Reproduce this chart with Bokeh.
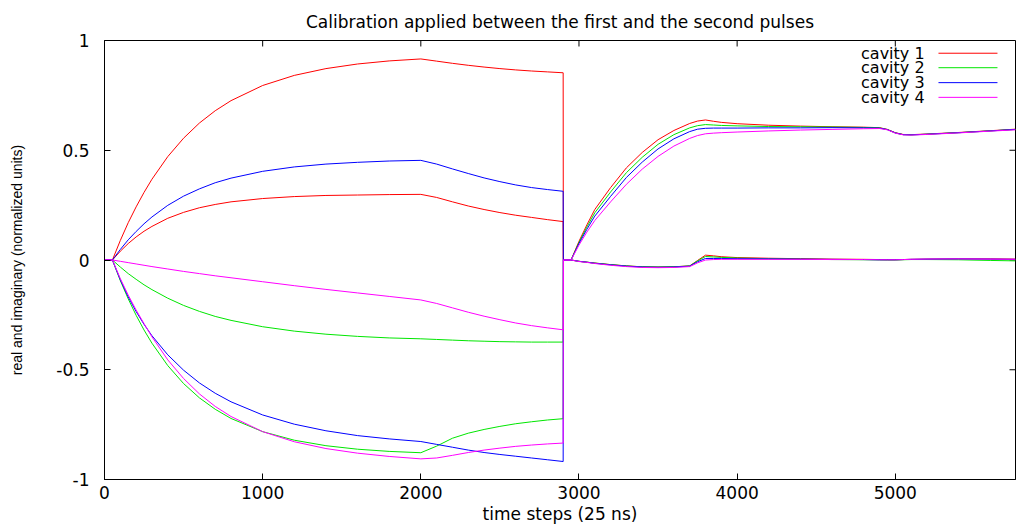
from bokeh.plotting import figure
from bokeh.models import Range1d, FixedTicker, CustomJSTickFormatter, Label
from bokeh.embed import file_html
from bokeh.resources import INLINE

# time steps (25 ns each)
steps = [0, 50, 100, 150, 200, 250, 300, 400, 500, 600, 700, 800, 1000, 1200, 1400, 1600, 1800, 2000,
         2100, 2200, 2300, 2400, 2500, 2600, 2700, 2800, 2900, 2901, 2950,
         3000, 3050, 3100, 3200, 3300, 3400, 3500, 3600, 3700, 3750, 3800, 3850, 3900, 4000,
         4200, 4400, 4600, 4800, 4900, 4950, 5000, 5050, 5100, 5200, 5400, 5600, 5760]

cav1_re = [0, 0, 0.089, 0.170, 0.242, 0.308, 0.368, 0.471, 0.555, 0.624, 0.680, 0.726, 0.795, 0.841, 0.872, 0.893, 0.907, 0.916,
           0.906, 0.896, 0.887, 0.879, 0.872, 0.866, 0.861, 0.857, 0.853, 0, 0,
           0.085, 0.160, 0.230, 0.330, 0.420, 0.490, 0.548, 0.590, 0.622, 0.633, 0.638, 0.632, 0.627, 0.621,
           0.614, 0.610, 0.607, 0.605, 0.603, 0.595, 0.580, 0.572, 0.571, 0.574, 0.581, 0.589, 0.596]
cav1_im = [0, 0, 0.040, 0.075, 0.105, 0.131, 0.153, 0.190, 0.217, 0.238, 0.253, 0.265, 0.280, 0.289, 0.294, 0.296, 0.298, 0.299,
           0.285, 0.265, 0.246, 0.230, 0.216, 0.204, 0.194, 0.184, 0.175, 0, 0,
           -0.006, -0.010, -0.014, -0.021, -0.027, -0.031, -0.032, -0.031, -0.027, -0.002, 0.022, 0.019, 0.015, 0.011,
           0.008, 0.006, 0.004, 0.003, 0.002, 0.001, 0.001, 0.002, 0.003, 0.004, 0.005, 0.005, 0.004]

cav2_re = [0, 0, -0.032, -0.062, -0.088, -0.113, -0.135, -0.174, -0.207, -0.234, -0.257, -0.275, -0.304, -0.324, -0.338, -0.348, -0.355, -0.359,
           -0.362, -0.365, -0.368, -0.370, -0.372, -0.373, -0.374, -0.374, -0.374, 0, 0,
           0.080, 0.150, 0.215, 0.310, 0.398, 0.468, 0.527, 0.571, 0.602, 0.612, 0.617, 0.615, 0.613, 0.611,
           0.608, 0.607, 0.606, 0.604, 0.602, 0.594, 0.579, 0.571, 0.570, 0.573, 0.580, 0.588, 0.595]
cav2_im = [0, 0, -0.094, -0.177, -0.252, -0.319, -0.379, -0.481, -0.563, -0.628, -0.680, -0.722, -0.782, -0.821, -0.846, -0.862, -0.872, -0.878,
           -0.848, -0.812, -0.789, -0.772, -0.758, -0.746, -0.737, -0.729, -0.723, 0, 0,
           -0.006, -0.010, -0.014, -0.021, -0.027, -0.031, -0.032, -0.031, -0.027, -0.004, 0.016, 0.014, 0.012, 0.009,
           0.006, 0.004, 0.002, 0.001, 0.000, 0.000, 0.000, 0.001, 0.002, 0.002, 0.001, -0.002, -0.004]

cav3_re = [0, 0, 0.048, 0.092, 0.130, 0.165, 0.196, 0.249, 0.291, 0.324, 0.352, 0.373, 0.404, 0.424, 0.437, 0.445, 0.451, 0.454,
           0.437, 0.415, 0.394, 0.374, 0.357, 0.342, 0.330, 0.321, 0.313, 0, 0,
           0.075, 0.140, 0.200, 0.290, 0.376, 0.446, 0.506, 0.552, 0.585, 0.596, 0.600, 0.601, 0.601, 0.601,
           0.602, 0.602, 0.603, 0.602, 0.601, 0.594, 0.579, 0.571, 0.570, 0.573, 0.580, 0.588, 0.595]
cav3_im = [0, 0, -0.090, -0.168, -0.235, -0.293, -0.345, -0.432, -0.502, -0.560, -0.607, -0.646, -0.706, -0.748, -0.778, -0.800, -0.815, -0.827,
           -0.840, -0.853, -0.866, -0.877, -0.886, -0.894, -0.902, -0.910, -0.918, 0, 0,
           -0.006, -0.010, -0.015, -0.022, -0.028, -0.032, -0.033, -0.032, -0.028, -0.008, 0.007, 0.007, 0.007, 0.006,
           0.005, 0.004, 0.003, 0.002, 0.001, 0.001, 0.001, 0.002, 0.003, 0.004, 0.005, 0.004, 0.003]

cav4_re = [0, 0, -0.006, -0.012, -0.018, -0.024, -0.030, -0.041, -0.052, -0.062, -0.072, -0.081, -0.099, -0.117, -0.134, -0.150, -0.166, -0.182,
           -0.198, -0.218, -0.238, -0.256, -0.272, -0.287, -0.299, -0.309, -0.318, 0, 0,
           0.068, 0.127, 0.180, 0.265, 0.345, 0.414, 0.472, 0.519, 0.554, 0.567, 0.575, 0.578, 0.580, 0.583,
           0.588, 0.592, 0.595, 0.598, 0.599, 0.593, 0.578, 0.570, 0.569, 0.572, 0.579, 0.587, 0.593]
cav4_im = [0, 0, -0.085, -0.160, -0.228, -0.290, -0.350, -0.455, -0.540, -0.610, -0.667, -0.713, -0.782, -0.828, -0.859, -0.880, -0.895, -0.906,
           -0.902, -0.890, -0.877, -0.866, -0.857, -0.849, -0.843, -0.838, -0.834, 0, 0,
           -0.007, -0.011, -0.016, -0.024, -0.030, -0.034, -0.035, -0.034, -0.030, -0.013, 0.000, 0.002, 0.003, 0.003,
           0.003, 0.003, 0.002, 0.002, 0.001, 0.001, 0.001, 0.002, 0.003, 0.004, 0.005, 0.004, 0.003]

names = ["cavity 1", "cavity 2", "cavity 3", "cavity 4"]
colors = ["#ff0000", "#00e600", "#0000ff", "#ff00ff"]
series = [(cav1_re, cav1_im), (cav2_re, cav2_im), (cav3_re, cav3_im), (cav4_re, cav4_im)]
x_ticks = [0, 1000, 2000, 3000, 4000, 5000]
y_ticks = [-1, -0.5, 0, 0.5, 1]

FONT = "DejaVu Sans"
X_MAX = 5760
FRAME_W, FRAME_H = 911, 440
TICK_PX = 6

p = figure(width=1016, height=526, x_range=Range1d(0, X_MAX), y_range=Range1d(-1, 1),
           output_backend="svg", toolbar_location=None,
           min_border_left=104, min_border_right=1, min_border_top=40, min_border_bottom=46,
           background_fill_color="white", border_fill_color="white")

p.title.text = "Calibration applied between the first and the second pulses"
p.title.align = "center"
p.title.text_font = FONT
p.title.text_font_size = "17px"
p.title.text_font_style = "normal"
p.title.text_color = "black"
p.title.standoff = 17

p.xgrid.visible = False
p.ygrid.visible = False
p.outline_line_color = "black"
p.outline_line_width = 1

fmt = CustomJSTickFormatter(code="return tick.toString()")

xa = p.xaxis[0]
xa.ticker = FixedTicker(ticks=x_ticks)
xa.formatter = fmt
xa.axis_label = "time steps (25 ns)"
ya = p.yaxis[0]
ya.ticker = FixedTicker(ticks=y_ticks)
ya.formatter = fmt
ya.axis_label = "real and imaginary (normalized units)"

for ax in (xa, ya):
    ax.major_tick_in = TICK_PX
    ax.major_tick_out = 0
    ax.minor_tick_line_color = None
    ax.axis_line_color = "black"
    ax.major_tick_line_color = "black"
    ax.major_label_text_font = FONT
    ax.major_label_text_font_size = "17px"
    ax.major_label_text_color = "black"
    ax.axis_label_text_font_style = "normal"
    ax.axis_label_text_color = "black"

xa.major_label_standoff = 6
xa.axis_label_text_font = FONT
xa.axis_label_text_font_size = "17px"
xa.axis_label_standoff = 2
ya.major_label_standoff = 15
ya.axis_label_text_font = "Liberation Sans"
ya.axis_label_text_font_size = "14px"
ya.axis_label_standoff = 28

# mirrored inward ticks on the top and right borders
dy_tick = TICK_PX * 2.0 / FRAME_H
dx_tick = TICK_PX * X_MAX / FRAME_W
p.segment(x0=x_ticks, x1=x_ticks, y0=[1] * len(x_ticks), y1=[1 - dy_tick] * len(x_ticks),
          line_color="black", line_width=1)
p.segment(x0=[X_MAX] * len(y_ticks), x1=[X_MAX - dx_tick] * len(y_ticks), y0=y_ticks, y1=y_ticks,
          line_color="black", line_width=1)

for (re_vals, im_vals), c in zip(series, colors):
    p.multi_line(xs=[steps, steps], ys=[re_vals, im_vals], line_color=c, line_width=1)

# key (text left of the line sample, as in the original)
key_rows = [0.942, 0.876, 0.808, 0.741]
key_text_x, key_line_x0, key_line_x1 = 5185, 5273, 5646
for name, ky, c in zip(names, key_rows, colors):
    p.line(x=[key_line_x0, key_line_x1], y=[ky, ky], line_color=c, line_width=1)
    p.add_layout(Label(x=key_text_x, y=ky, text=name, text_align="right", text_baseline="middle",
                       text_font=FONT, text_font_size="16px", text_color="black"))

open("out.html", "w").write(file_html(p, INLINE))
